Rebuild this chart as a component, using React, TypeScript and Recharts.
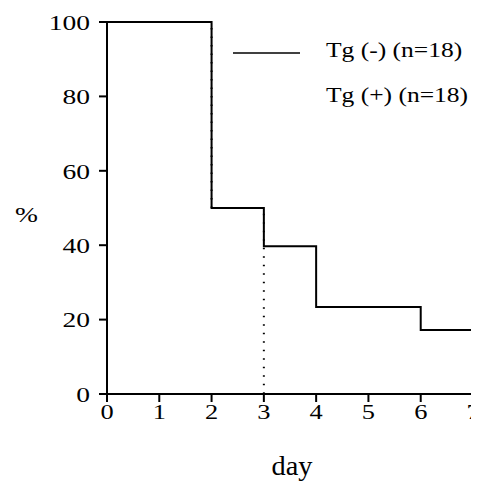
import React, { useEffect } from 'react';
import { LineChart, Line, XAxis, YAxis } from 'recharts';

const days = [0, 2, 3, 4, 6, 7];
const tgMinus = [100, 50, 39.7, 23.4, 17.2, 17.2];
const tgPlus = [100, 50, 0, 0, 0, 0];
const xTicks = [0, 1, 2, 3, 4, 5, 6, 7];
const yTicks = [0, 20, 40, 60, 80, 100];
const seriesNames = ['Tg (-) (n=18)', 'Tg (+) (n=18)'];

const data = days.map((d, i) => ({ day: d, minus: tgMinus[i], plus: tgPlus[i] }));

const FONT = "'Liberation Serif', 'Times New Roman', Times, serif";
const textStyle = { fontFamily: FONT };

const XTick = (props: any) => {
  const { x, y, payload } = props;
  return (
    <g transform={`translate(${x},${y})`}>
      <text transform="scale(1.2,1)" textAnchor="middle" dy="0.71em" style={textStyle} fontSize={22} fill="#000">
        {payload.value}
      </text>
    </g>
  );
};

const YTick = (props: any) => {
  const { x, y, payload } = props;
  return (
    <g transform={`translate(${x - 8},${y})`}>
      <text transform="scale(1.25,1)" textAnchor="end" dy="0.35em" style={textStyle} fontSize={22} fill="#000">
        {payload.value}
      </text>
    </g>
  );
};

export default function App() {
  useEffect(() => {
    document.documentElement.style.overflow = 'hidden';
    document.body.style.overflow = 'hidden';
  }, []);
  return (
    <div style={{ position: 'relative', width: 471, height: 480 }}>
      <LineChart
        width={471}
        height={480}
        data={data}
        margin={{ top: 14, right: 6, bottom: 64, left: 39 }}
        style={{ overflow: 'visible' }}
      >
        <XAxis
          dataKey="day"
          type="number"
          domain={[0, 7]}
          ticks={xTicks}
          interval={0}
          height={30}
          tickSize={8}
          tickMargin={1}
          tick={<XTick />}
          axisLine={{ stroke: '#000', strokeWidth: 2 }}
          tickLine={{ stroke: '#000', strokeWidth: 2 }}
        />
        <YAxis
          type="number"
          domain={[0, 100]}
          ticks={yTicks}
          interval={0}
          width={60}
          tickSize={8}
          tickMargin={1}
          tick={<YTick />}
          axisLine={{ stroke: '#000', strokeWidth: 2 }}
          tickLine={{ stroke: '#000', strokeWidth: 2 }}
        />
        <Line
          type="stepAfter"
          dataKey="plus"
          name={seriesNames[1]}
          stroke="#000"
          strokeWidth={2}
          strokeDasharray="1.5 7"
          dot={false}
          activeDot={false}
          isAnimationActive={false}
        />
        <Line
          type="stepAfter"
          dataKey="minus"
          name={seriesNames[0]}
          stroke="#000"
          strokeWidth={2}
          dot={false}
          activeDot={false}
          isAnimationActive={false}
        />
      </LineChart>
      <svg width={471} height={480} style={{ position: 'absolute', left: 0, top: 0, pointerEvents: 'none' }}>
        <line x1={225} y1={45} x2={292} y2={45} stroke="#000" strokeWidth={1.5} />
        <g transform="translate(318,49) scale(1.16,1)">
          <text style={textStyle} fontSize={22} fill="#000">{seriesNames[0]}</text>
        </g>
        <g transform="translate(318,94) scale(1.16,1)">
          <text style={textStyle} fontSize={22} fill="#000">{seriesNames[1]}</text>
        </g>
        <g transform="translate(284,467) scale(1.05,1)">
          <text textAnchor="middle" style={textStyle} fontSize={27} fill="#000">day</text>
        </g>
        <g transform="translate(7,214) scale(1.25,1)">
          <text style={textStyle} fontSize={22} fill="#000">%</text>
        </g>
      </svg>
    </div>
  );
}
